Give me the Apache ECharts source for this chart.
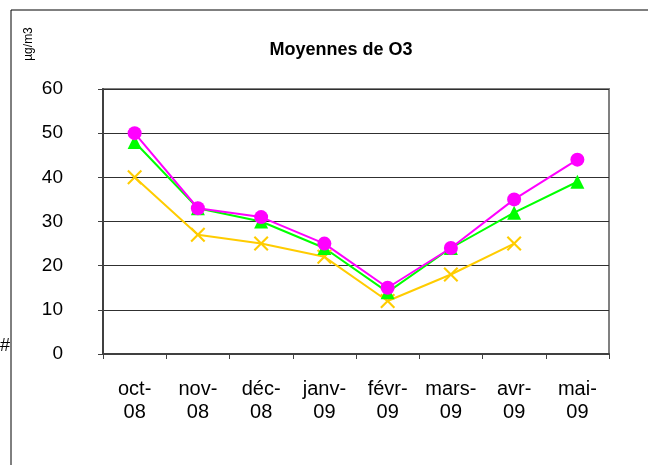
<!DOCTYPE html>
<html>
<head>
<meta charset="utf-8">
<script src="https://cdn.jsdelivr.net/npm/echarts@6/dist/echarts.min.js"></script>
<style>
  html, body { margin: 0; padding: 0; background: #fff; }
  #chart { width: 648px; height: 465px; }
</style>
</head>
<body>
<div id="chart"></div>
<script>
  // catégories (mois)
  var months = ['oct-\n08', 'nov-\n08', 'déc-\n08', 'janv-\n09', 'févr-\n09', 'mars-\n09', 'avr-\n09', 'mai-\n09'];
  // séries
  var serieRose = [50, 33, 31, 25, 15, 24, 35, 44];
  var serieVert = [48, 33, 30, 24, 14, 24, 32, 39];
  var serieJaune = [40, 27, 25, 22, 12, 18, 25, null];

  var crossPath = 'path://M0,1L1,0L5,4L9,0L10,1L6,5L10,9L9,10L5,6L1,10L0,9L4,5Z';
  var font = 'Liberation Sans, Arial, sans-serif';

  var chart = echarts.init(document.getElementById('chart'));
  var option = {
    animation: false,
    title: {
      text: 'Moyennes de O3',
      left: 336, top: 36, textAlign: 'center',
      textStyle: { fontFamily: font, fontSize: 18, fontWeight: 'bold', color: '#000' }
    },
    graphic: [
      { type: 'rect', shape: { x: 11, y: 10, width: 700, height: 500 },
        style: { fill: 'none', stroke: '#000', lineWidth: 1 } },
      { type: 'text', x: 29, y: 44, rotation: Math.PI / 2, style: {
          text: 'µg/m3', fontFamily: font, fontSize: 12, fill: '#000',
          align: 'center', verticalAlign: 'middle' } },
      { type: 'text', x: 0, y: 346, style: {
          text: '#', fontFamily: font, fontSize: 18, fill: '#000', verticalAlign: 'middle' } }
    ],
    grid: {
      left: 103, right: 39, top: 89, bottom: 111,
      show: true, borderColor: '#808080', borderWidth: 2
    },
    xAxis: {
      type: 'category',
      data: months,
      boundaryGap: true,
      axisLine: { lineStyle: { color: '#404040', width: 2 } },
      axisTick: { show: true, interval: 0, length: 5, lineStyle: { color: '#404040', width: 1 } },
      axisLabel: { interval: 0, margin: 24, fontFamily: font, fontSize: 20, color: '#000', lineHeight: 23 }
    },
    yAxis: {
      type: 'value',
      min: 0, max: 60, interval: 10,
      axisLine: { show: true, lineStyle: { color: '#404040', width: 2 } },
      axisTick: { show: true, length: 5, lineStyle: { color: '#404040' } },
      axisLabel: { margin: 40, fontFamily: font, fontSize: 19, color: '#000' },
      splitLine: { lineStyle: { color: '#303030', width: 1 } }
    },
    series: [
      {
        name: 'jaune', type: 'line', data: serieJaune,
        symbol: crossPath, symbolSize: 15,
        lineStyle: { color: '#FFCC00', width: 2 },
        itemStyle: { color: '#FFCC00' }
      },
      {
        name: 'vert', type: 'line', data: serieVert,
        symbol: 'triangle', symbolSize: 14,
        lineStyle: { color: '#00FF00', width: 2 },
        itemStyle: { color: '#00FF00' }
      },
      {
        name: 'rose', type: 'line', data: serieRose,
        symbol: 'circle', symbolSize: 14,
        lineStyle: { color: '#FF00FF', width: 2 },
        itemStyle: { color: '#FF00FF' }
      }
    ]
  };
  chart.setOption(option);
</script>
</body>
</html>
